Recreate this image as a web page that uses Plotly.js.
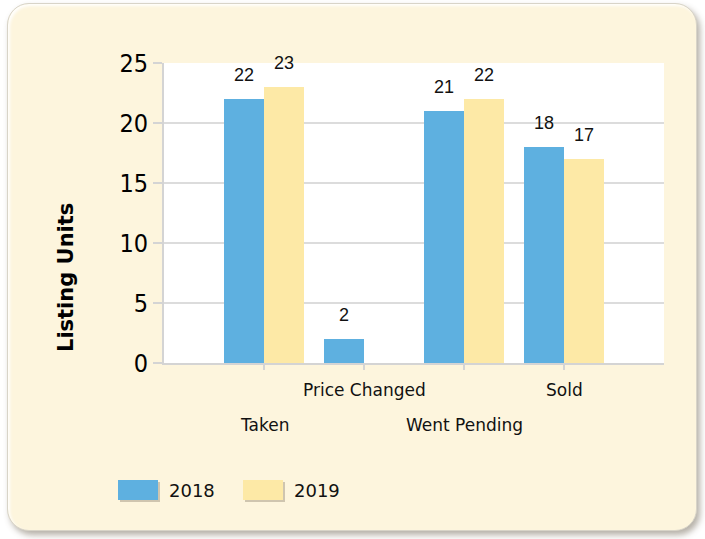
<!DOCTYPE html>
<html>
<head>
<meta charset="utf-8">
<script src="https://cdn.plot.ly/plotly-3.0.1.min.js"></script>
<style>
  html, body { margin: 0; padding: 0; background: #ffffff; }
  #wrap { position: relative; width: 705px; height: 539px; overflow: hidden; }
  #card {
    position: absolute; left: 7px; top: 3px; width: 688px; height: 526px;
    background: #fdf5dd; border: 1px solid #d8d4c8; border-radius: 22px;
    box-shadow: 3px 4px 6px rgba(90,80,60,0.45), inset 2px 2px 3px rgba(255,255,255,0.9);
  }
  #chart { position: absolute; left: 0; top: 0; width: 705px; height: 539px; }
</style>
</head>
<body>
<div id="wrap">
  <div id="card"></div>
  <div id="chart"></div>
</div>
<script>
const categories = ["Taken", "Price Changed", "Went Pending", "Sold"];
const seriesNames = ["2018", "2019"];
const values2018 = [22, 2, 21, 18];
const values2019 = [23, 0, 22, 17];
const yTicks = [0, 5, 10, 15, 20, 25];

const colors = ["#5eb0e0", "#fde9a6"];
const labelFont = "DejaVu Sans, Tahoma, Verdana, sans-serif";
const numFont = "Liberation Sans, Arial, sans-serif";

const series = [values2018, values2019];
const traces = series.map((vals, i) => ({
  type: "bar",
  name: seriesNames[i],
  x: categories,
  y: vals,
  marker: { color: colors[i], line: { width: 0 } },
  showlegend: false,
  hoverinfo: "x+y+name"
}));

const W = 705, H = 539;
const m = { l: 164, r: 41, t: 63, b: 176 };
const pw = W - m.l - m.r, ph = H - m.t - m.b;
const px = x => (x - m.l) / pw;
const py = y => (H - m.b - y) / ph;

const annotations = [];
// value labels above bars
series.forEach((vals, i) => {
  vals.forEach((v, j) => {
    if (v > 0) {
      annotations.push({
        x: categories[j], y: v, xref: "x", yref: "y",
        text: String(v), showarrow: false,
        xshift: i === 0 ? -20 : 20, yshift: 24,
        xanchor: "center", yanchor: "middle",
        font: { family: numFont, size: 18, color: "#111" }
      });
    }
  });
});
// staggered category labels
categories.forEach((c, j) => {
  annotations.push({
    x: c, y: 0, xref: "x", yref: "y",
    text: c, showarrow: false,
    xanchor: "center", yanchor: "middle",
    yshift: (j % 2 === 0) ? -62 : -27,
    font: { family: labelFont, size: 17, color: "#111" }
  });
});
// y axis title
annotations.push({
  x: px(66), y: py(278), xref: "paper", yref: "paper",
  xanchor: "center", yanchor: "middle",
  text: "<b>Listing Units</b>", showarrow: false, textangle: -90,
  font: { family: "DejaVu Sans, Verdana, sans-serif", size: 21, color: "#000" }
});

// custom legend (swatch + text)
const shapes = [];
const legendX = [118, 243];
seriesNames.forEach((n, i) => {
  shapes.push({
    type: "rect", xref: "paper", yref: "paper",
    x0: px(legendX[i] + 2), x1: px(legendX[i] + 42),
    y0: py(502), y1: py(482),
    fillcolor: "rgba(120,110,90,0.35)", line: { width: 0 }
  });
  shapes.push({
    type: "rect", xref: "paper", yref: "paper",
    x0: px(legendX[i]), x1: px(legendX[i] + 40),
    y0: py(500), y1: py(480),
    fillcolor: colors[i], line: { width: 0 }
  });
  annotations.push({
    x: px(legendX[i] + 49), y: py(490), xref: "paper", yref: "paper",
    text: n, showarrow: false, xanchor: "left", yanchor: "middle",
    font: { family: labelFont, size: 18, color: "#111" }
  });
});

const layout = {
  width: W, height: H,
  margin: m,
  paper_bgcolor: "rgba(0,0,0,0)",
  plot_bgcolor: "#ffffff",
  barmode: "group",
  bargap: 0.2,
  bargroupgap: 0,
  showlegend: false,
  xaxis: {
    type: "category",
    range: [-1, 4],
    showticklabels: false,
    ticks: "outside", ticklen: 5, tickwidth: 2, tickcolor: "#d4d4d4",
    showline: true, linecolor: "#d4d4d4", linewidth: 2,
    showgrid: false, zeroline: false, fixedrange: true
  },
  yaxis: {
    range: [0, 25],
    tickvals: yTicks,
    ticks: "outside", ticklen: 9, tickwidth: 2, tickcolor: "#d4d4d4",
    showline: true, linecolor: "#d4d4d4", linewidth: 2,
    gridcolor: "#dcdcdc", gridwidth: 2,
    zeroline: false,
    tickfont: { family: "Liberation Sans Narrow, DejaVu Sans Condensed, Arial Narrow, sans-serif", size: 25, color: "#000" },
    fixedrange: true
  },
  annotations: annotations,
  shapes: shapes
};

Plotly.newPlot("chart", traces, layout, { displayModeBar: false, staticPlot: true });
</script>
</body>
</html>
